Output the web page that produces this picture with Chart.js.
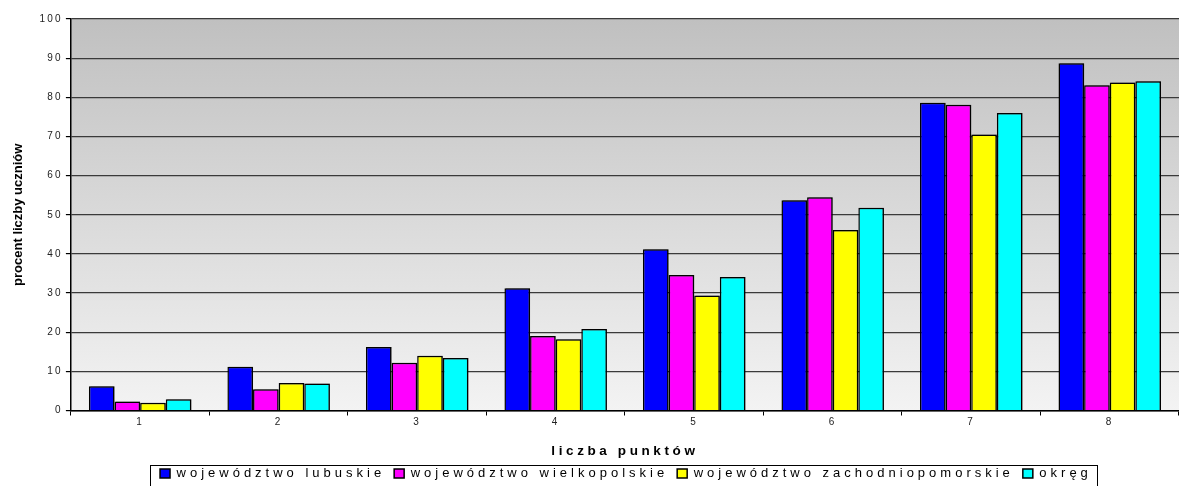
<!DOCTYPE html>
<html>
<head>
<meta charset="utf-8">
<script src="https://cdn.jsdelivr.net/npm/chart.js@4"></script>
<style>
  html, body { margin: 0; padding: 0; background: #fff; }
  #wrap { width: 1179px; height: 486px; }
</style>
</head>
<body>
<div id="wrap"><canvas id="chart"></canvas></div>
<script>
// dane
const categories = ['1', '2', '3', '4', '5', '6', '7', '8'];
const lubuskie = [6.2, 11.2, 16.2, 31.2, 41.2, 53.7, 78.6, 88.7];
const wielkopolskie = [2.3, 5.4, 12.2, 19.0, 34.6, 54.5, 78.1, 83.1];
const zachodniopomorskie = [2.0, 7.0, 14.0, 18.2, 29.4, 46.1, 70.5, 83.8];
const okreg = [2.9, 6.9, 13.4, 20.8, 34.1, 51.8, 76.0, 84.1];
const seriesNames = ['województwo lubuskie', 'województwo wielkopolskie', 'województwo zachodniopomorskie', 'okręg'];
const seriesColors = ['#0000ff', '#ff00ff', '#ffff00', '#00ffff'];

const FONT = "'Liberation Sans', Arial, sans-serif";

// odstępy między literami zależnie od czcionki
function spacingFor(font) {
    if (font.indexOf('13.5px') >= 0) return '3.6px';
    if (font.indexOf('bold') >= 0) return '0px';
    if (font.indexOf('13px') >= 0) return '4px';
    if (font.indexOf('10px') >= 0) return '2.2px';
    return '0px';
}
const proto = CanvasRenderingContext2D.prototype;
const origFill = proto.fillText;
const origMeasure = proto.measureText;
proto.fillText = function (...a) { this.letterSpacing = spacingFor(this.font); return origFill.apply(this, a); };
proto.measureText = function (...a) { this.letterSpacing = spacingFor(this.font); return origMeasure.apply(this, a); };

// tło z gradientem
const background = {
    id: 'background',
    beforeDraw(chart) {
        const { ctx, chartArea: a } = chart;
        ctx.save();
        ctx.fillStyle = '#fff';
        ctx.fillRect(0, 0, chart.width, chart.height);
        const g = ctx.createLinearGradient(0, a.top, 0, a.bottom);
        g.addColorStop(0, '#c0c0c0');
        g.addColorStop(1, '#f3f3f3');
        ctx.fillStyle = g;
        ctx.fillRect(a.left, a.top, a.right - a.left, a.bottom - a.top);
        ctx.restore();
    },
    beforeDatasetsDraw(chart) {
        const ctx = chart.ctx;
        ctx.save();
        ctx.shadowColor = 'rgba(0,0,0,0.45)';
        ctx.shadowOffsetX = 1.5;
        ctx.shadowOffsetY = 0;
        ctx.shadowBlur = 0;
    },
    afterDatasetsDraw(chart) {
        chart.ctx.restore();
    }
};

// legenda wyśrodkowana pod obszarem wykresu, z ramką
const legendFrame = {
    id: 'legendFrame',
    afterLayout(chart) {
        const lg = chart.legend;
        lg.left = chart.chartArea.left + 2;
        lg.top -= 2;
        lg.bottom -= 2;
    },
    afterDraw(chart) {
        const boxes = chart.legend.legendHitBoxes;
        if (!boxes || !boxes.length) return;
        const left = Math.min(...boxes.map(b => b.left)) - 10;
        const right = Math.max(...boxes.map(b => b.left + b.width)) + 5;
        const top = boxes[0].top - 2.5;
        const ctx = chart.ctx;
        ctx.save();
        ctx.strokeStyle = '#000';
        ctx.lineWidth = 1;
        ctx.strokeRect(Math.round(left) + 0.5, Math.round(top) + 0.5, Math.round(right - left), chart.height);
        ctx.restore();
    }
};

const datasets = seriesNames.map((name, i) => ({
    label: name,
    data: [lubuskie, wielkopolskie, zachodniopomorskie, okreg][i],
    backgroundColor: seriesColors[i],
    borderColor: '#000',
    borderWidth: 1.5,
    categoryPercentage: 0.74,
    barPercentage: 1.0
}));

new Chart(document.getElementById('chart'), {
    type: 'bar',
    data: { labels: categories, datasets },
    options: {
        responsive: true,
        maintainAspectRatio: false,
        animation: false,
        layout: { padding: { left: 11, right: 0, top: 19, bottom: -6 } },
        plugins: {
            tooltip: { enabled: false },
            legend: {
                position: 'bottom',
                labels: {
                    font: { family: FONT, size: 13 },
                    color: '#000',
                    boxWidth: 10,
                    boxHeight: 9,
                    padding: 9
                }
            }
        },
        scales: {
            x: {
                offset: true,
                grid: {
                    offset: true,
                    drawOnChartArea: false,
                    drawTicks: true,
                    tickLength: 5,
                    tickColor: '#000'
                },
                border: { color: '#000', width: 1.5 },
                ticks: { font: { family: FONT, size: 10 }, color: '#222', padding: 1 },
                title: {
                    display: true,
                    text: 'liczba punktów',
                    font: { family: FONT, size: 13.5, weight: 'bold' },
                    color: '#000',
                    padding: { top: 13.5, bottom: 0.8 }
                }
            },
            y: {
                min: 0,
                max: 100,
                ticks: { stepSize: 10, font: { family: FONT, size: 10 }, color: '#222', padding: 3 },
                grid: { color: '#3a3a3a', lineWidth: 1.2, tickLength: 5, tickColor: '#000' },
                border: { color: '#000', width: 1.5 },
                title: {
                    display: true,
                    text: 'procent liczby uczniów',
                    font: { family: FONT, size: 13, weight: 'bold' },
                    color: '#000',
                    padding: { top: 0, bottom: 10 }
                }
            }
        }
    },
    plugins: [background, legendFrame]
});
</script>
</body>
</html>
